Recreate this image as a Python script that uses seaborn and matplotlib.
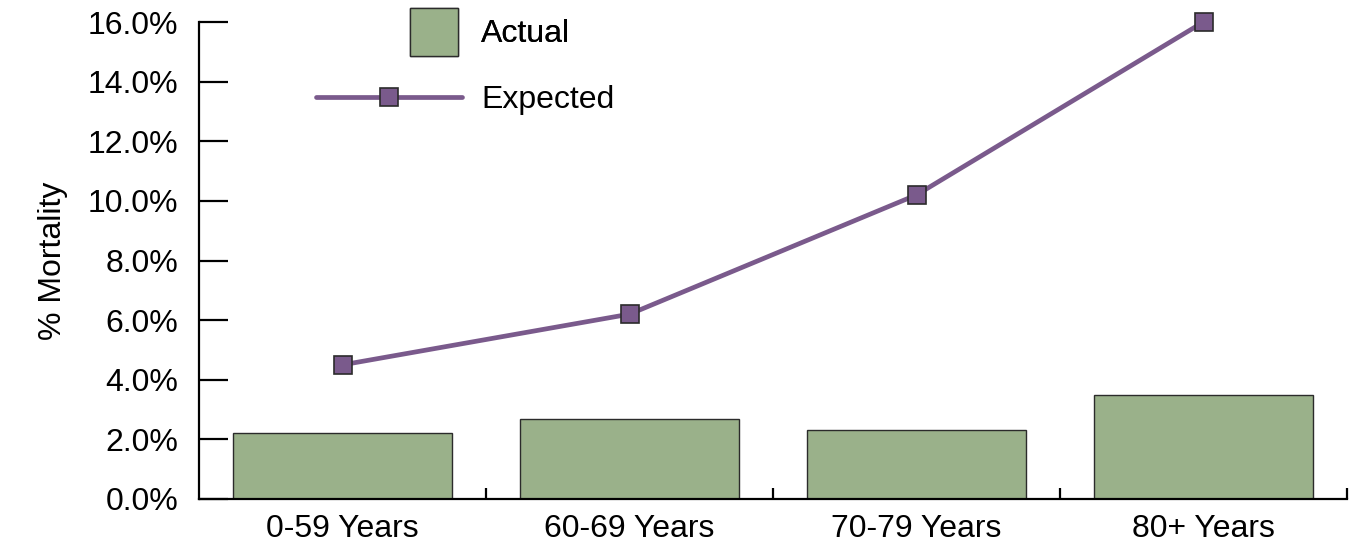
import matplotlib
matplotlib.use("Agg")
import matplotlib.pyplot as plt
from matplotlib.patches import Patch
from matplotlib.lines import Line2D
from matplotlib.ticker import FixedLocator, FuncFormatter
import seaborn as sns
import pandas as pd

# Mortality by age band
age_groups = ["0-59 Years", "60-69 Years", "70-79 Years", "80+ Years"]
actual = [2.2, 2.7, 2.3, 3.5]
expected = [4.5, 6.2, 10.2, 16.0]
y_ticks = [0, 2, 4, 6, 8, 10, 12, 14, 16]

BAR_GREEN = "#9AB18A"
LINE_PURPLE = "#7A5A8C"
EDGE = "#2b2b2b"
FS = 23

sns.set_style("white")
plt.rcParams["font.family"] = ["Liberation Sans", "DejaVu Sans"]
plt.rcParams.update({"text.color": "black", "axes.labelcolor": "black",
                     "xtick.color": "black", "ytick.color": "black"})

df = pd.DataFrame({"group": age_groups, "actual": actual, "expected": expected})

fig = plt.figure(figsize=(13.69, 5.46), dpi=100)
ax = fig.add_axes([199 / 1369, 47 / 546, 1148 / 1369, 477 / 546])

sns.barplot(data=df, x="group", y="actual", order=age_groups, color=BAR_GREEN,
            saturation=1, width=0.76, edgecolor=EDGE, linewidth=1.0, ax=ax)
sns.pointplot(data=df, x="group", y="expected", order=age_groups, color=LINE_PURPLE,
              markers="s", linestyles="-", ax=ax, linewidth=3.4,
              markersize=12.5, markeredgecolor=EDGE, markeredgewidth=1.2,
              markerfacecolor=LINE_PURPLE)
for ln in ax.lines:
    ln.set_clip_on(False)
    ln.set_zorder(5)

ax.set_xlim(-0.5, 3.5)
ax.set_ylim(0, 16)
ax.set_xlabel("")
ax.set_ylabel("% Mortality", fontsize=FS, labelpad=14)

ax.yaxis.set_major_locator(FixedLocator(y_ticks))
ax.yaxis.set_major_formatter(FuncFormatter(lambda v, p: f"{v:.1f}%"))

ax.set_xticks(range(len(age_groups)))
ax.set_xticklabels(age_groups)
ax.xaxis.set_minor_locator(FixedLocator([0.5, 1.5, 2.5, 3.5]))

ax.tick_params(axis="y", which="major", direction="in", length=21, width=1.6,
               color="black", labelsize=FS, pad=15, left=True)
ax.tick_params(axis="x", which="major", length=0, labelsize=FS, pad=10.5)
ax.tick_params(axis="x", which="minor", direction="in", length=8, width=1.6,
               color="black", bottom=True)

for side in ["top", "right"]:
    ax.spines[side].set_visible(False)
for side in ["left", "bottom"]:
    ax.spines[side].set_color("black")
    ax.spines[side].set_linewidth(1.6)

# Legend: bar swatch and line key shown as two separate rows
leg1 = fig.legend(handles=[Patch(facecolor=BAR_GREEN, edgecolor=EDGE, linewidth=1.0, label="Actual")],
                  loc="center left", bbox_to_anchor=(410 / 1369, 1 - 32 / 546),
                  frameon=False, fontsize=FS, handlelength=1.5, handleheight=1.9,
                  handletextpad=0.72, borderpad=0, borderaxespad=0)
fig.add_artist(leg1)
fig.legend(handles=[Line2D([0], [0], color=LINE_PURPLE, linewidth=3.4, marker="s",
                           markersize=12.5, markerfacecolor=LINE_PURPLE,
                           markeredgecolor=EDGE, markeredgewidth=1.2, label="Expected")],
           loc="center left", bbox_to_anchor=(316 / 1369, 1 - 100 / 546),
           frameon=False, fontsize=FS, handlelength=4.58, handletextpad=0.6,
           numpoints=1, borderpad=0, borderaxespad=0)

fig.savefig("out.png", dpi=100)
